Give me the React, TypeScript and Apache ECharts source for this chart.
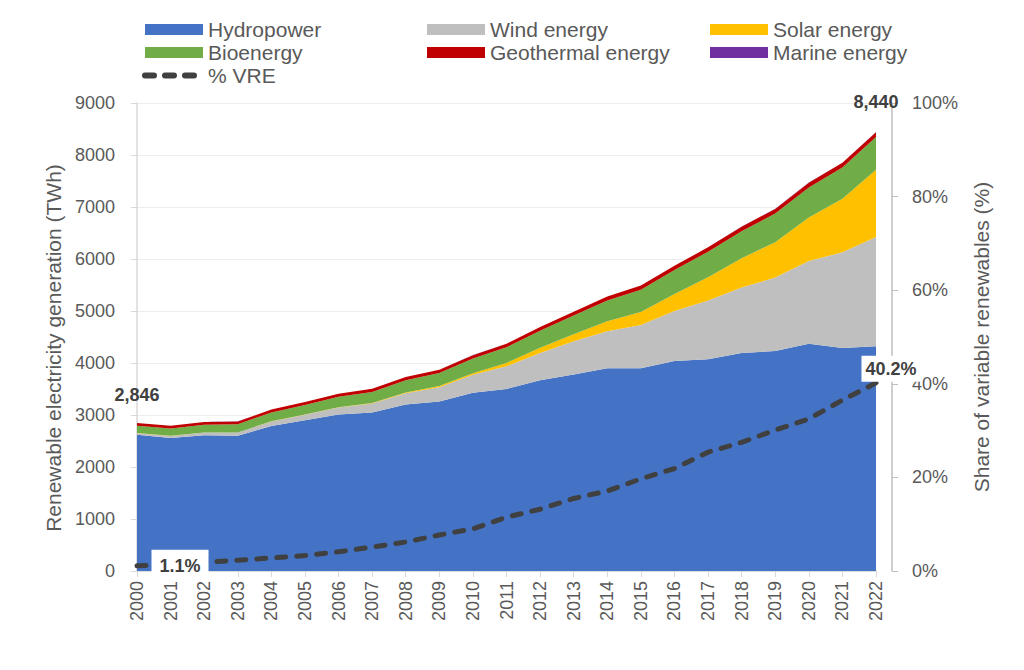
import React, { useEffect, useRef } from "react";
import * as echarts from "echarts";

const years = ["2000","2001","2002","2003","2004","2005","2006","2007","2008","2009","2010","2011","2012","2013","2014","2015","2016","2017","2018","2019","2020","2021","2022"];
const hydropower = [2620,2560,2610,2600,2790,2900,3010,3050,3200,3260,3430,3500,3670,3780,3900,3900,4040,4070,4190,4230,4370,4290,4320];
const wind = [31,38,52,63,85,104,133,171,220,276,342,437,521,636,712,831,958,1134,1262,1412,1592,1838,2105];
const solar = [1,1,2,2,3,4,6,8,13,21,33,65,100,139,191,250,329,445,562,681,834,1030,1291];
const bioenergy = [142,140,150,158,170,185,200,215,235,250,280,300,330,360,400,430,460,490,520,550,580,600,628];
const geothermal = [52,52,53,54,56,57,58,60,62,64,66,68,70,72,76,80,82,85,88,90,92,94,95];
const marine = [0,0.5,0.5,0.5,0.5,0.5,0.5,0.5,0.5,0.5,0.5,0.5,0.5,0.5,1,1,1,1,1,1,1,1,1];
const vreShare = [1.1,1.4,1.9,2.3,2.8,3.3,4.1,5.1,6.2,7.7,9.0,11.5,13.2,15.5,17.1,19.7,21.9,25.4,27.5,30.1,32.5,36.5,40.2];
const leftTicks = { min: 0, max: 9000, interval: 1000 };
const rightTicks = { min: 0, max: 100, interval: 20 };

const COLORS = {
  hydro: "#4472C4",
  wind: "#BFBFBF",
  solar: "#FFC000",
  bio: "#70AD47",
  geo: "#C00000",
  marine: "#7030A0",
  vre: "#404040",
};

const TXT = "#595959";
const FONT = "Liberation Sans, Arial, sans-serif";

export default function App() {
  const ref = useRef<HTMLDivElement>(null);
  useEffect(() => {
    document.body.style.margin = "0";
    if (!ref.current) return;
    const chart = echarts.init(ref.current, null, { renderer: "svg" });
    const totals = years.map((_, i) => hydropower[i] + wind[i] + solar[i] + bioenergy[i] + geothermal[i] + marine[i]);
    const last = years.length - 1;
    const fmtTotal = (v: number) => Math.round(v).toLocaleString("en-US");
    const boldLabel = { fontFamily: FONT, fontWeight: "bold", fontSize: 18, color: "#404040" };

    const area = (name: string, data: number[], color: string, extra: any = {}) => ({
      name,
      type: "line",
      stack: "total",
      data,
      symbol: "none",
      lineStyle: { width: 0 },
      areaStyle: { color, opacity: 1 },
      itemStyle: { color },
      ...extra,
    });

    const legendBase = {
      orient: "vertical",
      itemWidth: 58,
      itemHeight: 11,
      itemGap: 2,
      textStyle: { fontFamily: FONT, fontSize: 21, color: TXT, lineHeight: 21 },
      top: 14,
    };

    chart.setOption({
      animation: false,
      textStyle: { fontFamily: FONT },
      legend: [
        {
          ...legendBase,
          left: 137,
          data: [
            { name: "Hydropower", icon: "rect" },
            { name: "Bioenergy", icon: "rect" },
            { name: "% VRE", itemStyle: { opacity: 0 }, lineStyle: { width: 6, color: COLORS.vre } },
          ],
        },
        { ...legendBase, left: 422, data: [{ name: "Wind energy", icon: "rect" }, { name: "Geothermal energy", icon: "rect" }] },
        { ...legendBase, left: 705, data: [{ name: "Solar energy", icon: "rect" }, { name: "Marine energy", icon: "rect" }] },
      ],
      grid: { left: 137, right: 148, top: 103, bottom: 99, containLabel: false },
      xAxis: {
        type: "category",
        data: years,
        boundaryGap: false,
        axisLine: { lineStyle: { color: "#D9D9D9", width: 1.5 } },
        axisTick: { show: true, length: 6, interval: 0, lineStyle: { color: "#D9D9D9" } },
        axisLabel: { rotate: 90, interval: 0, fontSize: 18, color: TXT, fontFamily: FONT, margin: 10 },
      },
      yAxis: [
        {
          type: "value",
          ...leftTicks,
          name: "Renewable electricity generation (TWh)",
          nameLocation: "middle",
          nameGap: 70,
          nameTextStyle: { fontSize: 21, color: TXT, fontFamily: FONT, padding: [0, 22, 0, 0] },
          axisLine: { show: true, lineStyle: { color: "#D9D9D9", width: 1.5 } },
          axisTick: { show: true, length: 6, lineStyle: { color: "#D9D9D9" } },
          axisLabel: { fontSize: 18, color: TXT, fontFamily: FONT, margin: 22, formatter: (v: number) => String(v) },
          splitLine: { show: true, lineStyle: { color: "#EDEDED", width: 1 } },
        },
        {
          type: "value",
          ...rightTicks,
          position: "right",
          offset: 16,
          name: "Share of variable renewables (%)",
          nameLocation: "middle",
          nameGap: 79,
          nameTextStyle: { fontSize: 21, color: TXT, fontFamily: FONT },
          axisLine: { show: true, lineStyle: { color: "#BFBFBF", width: 1.5 } },
          axisTick: { show: true, length: 6, lineStyle: { color: "#BFBFBF" } },
          axisLabel: { fontSize: 18, color: TXT, fontFamily: FONT, margin: 20, formatter: "{value}%" },
          splitLine: { show: false },
        },
      ],
      series: [
        area("Hydropower", hydropower, COLORS.hydro),
        area("Wind energy", wind, COLORS.wind),
        area("Solar energy", solar, COLORS.solar),
        area("Bioenergy", bioenergy, COLORS.bio),
        area("Geothermal energy", geothermal, COLORS.geo),
        area("Marine energy", marine, COLORS.marine, {
          markPoint: {
            symbol: "circle",
            symbolSize: 0,
            silent: true,
            data: [
              { coord: [years[0], totals[0]], label: { show: true, position: "inside", offset: [0, -28], formatter: fmtTotal(totals[0]), ...boldLabel } },
              { coord: [years[last], totals[last]], label: { show: true, position: "inside", offset: [0, -30], formatter: fmtTotal(totals[last]), ...boldLabel } },
            ],
          },
        }),
        {
          name: "% VRE",
          type: "line",
          yAxisIndex: 1,
          data: vreShare,
          symbol: "none",
          z: 5,
          itemStyle: { color: COLORS.vre },
          lineStyle: { color: COLORS.vre, width: 5, type: [9, 11], cap: "round" },
          markPoint: {
            symbol: "circle",
            symbolSize: 0,
            silent: true,
            z: 10,
            data: [
              { coord: [years[0], vreShare[0]], label: { show: true, position: "inside", offset: [43, 0], formatter: vreShare[0].toFixed(1) + "%", backgroundColor: "#FFFFFF", padding: [7, 8, 7, 8], ...boldLabel } },
              { coord: [years[last], vreShare[last]], label: { show: true, position: "inside", offset: [15, -14], formatter: vreShare[last].toFixed(1) + "%", backgroundColor: "#FFFFFF", padding: [4, 4, 4, 4], ...boldLabel } },
            ],
          },
        },
      ],
    });
    return () => chart.dispose();
  }, []);
  return <div ref={ref} style={{ width: 1024, height: 670 }} />;
}
